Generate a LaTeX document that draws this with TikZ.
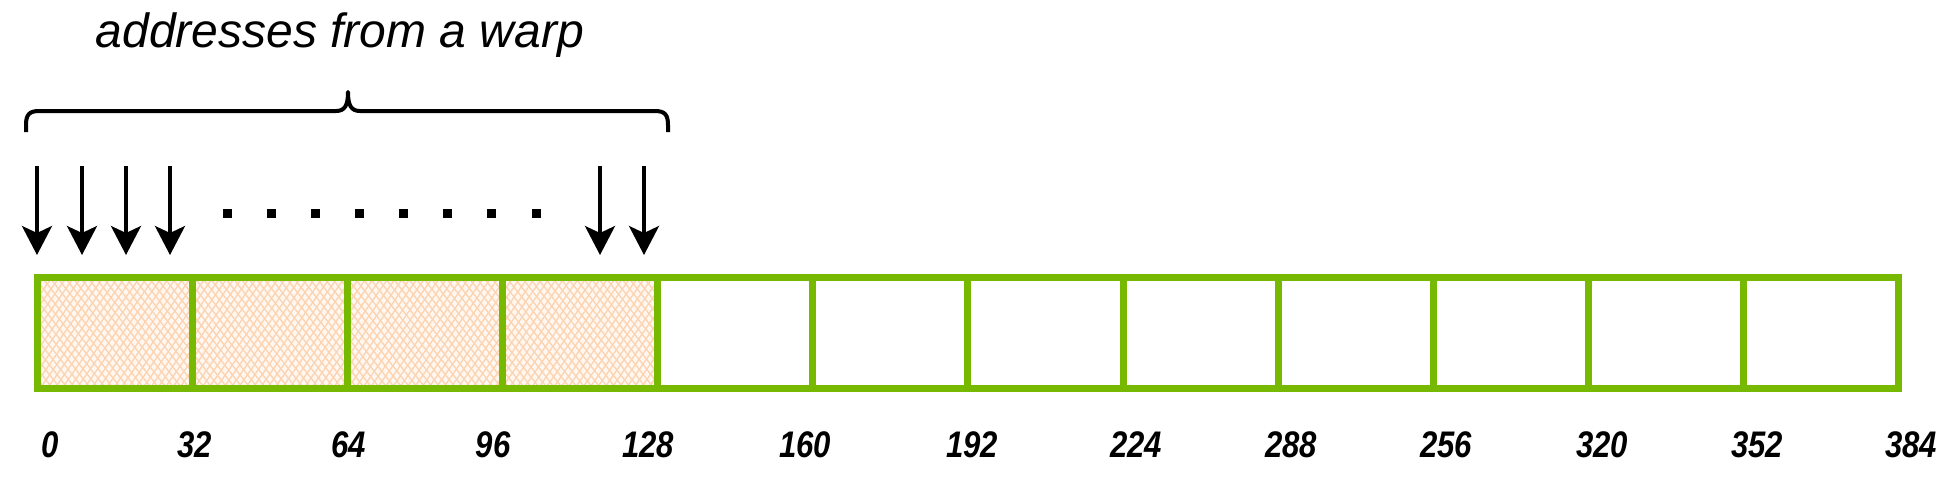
\documentclass[tikz,border=0pt]{standalone}
\usepackage{fontspec}
\setmainfont{Liberation Sans}
\usetikzlibrary{arrows.meta,patterns.meta,fit}
\definecolor{nvgreen}{HTML}{76B900}
\definecolor{peach}{HTML}{FCD3B0}
\definecolor{peachbg}{HTML}{FFF7F0}
\begin{document}
\begin{tikzpicture}[x=1pt,y=-1pt,
  addrarrow/.style={line width=3.5pt,-{Stealth[width=30pt,length=29pt,inset=7pt]}},
  cellbox/.style={draw=nvgreen,line width=7pt},
  dotmark/.style={fill=black,minimum size=9pt,inner sep=0pt},
  lbl/.style={font=\fontsize{37}{40}\selectfont\bfseries\itshape},
  title/.style={font=\fontsize{48}{56}\selectfont\itshape}]
\useasboundingbox (0,0) rectangle (1960,477);
\node[title,anchor=base] (t) at (340,47) {addresses from a warp};
% brace
\draw[line width=4pt,line join=round] (26,132) -- (26,125) .. controls (26,115) and (29,111) .. (39,111) -- (336,111) .. controls (345,111) and (348,105) .. (348,92) .. controls (348,105) and (351,111) .. (360,111) -- (655,111) .. controls (665,111) and (668,115) .. (668,125) -- (668,132);
% hatched cells
\fill[peachbg] (37.5,277.5) rectangle (658,388.5);
\fill[pattern={Lines[angle=55,distance=6pt,line width=1.3pt]},pattern color=peach] (37.5,277.5) rectangle (658,388.5);
\fill[pattern={Lines[angle=128,distance=6pt,line width=1.3pt]},pattern color=peach] (37.5,277.5) rectangle (658,388.5);
% cells
\foreach \i in {0,...,11} {
  \coordinate (c\i) at ({37.5+155.08*\i},277.5);
  \coordinate (d\i) at ({37.5+155.08*(\i+1)},388.5);
  \node[cellbox,inner sep=0pt,fit=(c\i)(d\i)] (cell\i) {};
}
% arrows
\foreach \x [count=\k] in {37,82,126,170,600,644} {
  \coordinate (a\k) at (\x,166);
  \coordinate (b\k) at (\x,255);
  \draw[addrarrow] (a\k) -- (b\k);
}
\foreach \x [count=\k] in {227,271,315,359,403,447,491,536} {
  \node[dotmark] (dot\k) at (\x,213) {};
}
% labels
\foreach \v/\x [count=\k from 0] in {0/50,32/195,64/349,96/493,128/648,160/805,192/972,224/1136,288/1291,256/1446,320/1602,352/1757,384/1911} {
  \node[lbl] (l\k) at (\x,445) {\scalebox{0.84}[1]{\v}};
}
\end{tikzpicture}
\end{document}
